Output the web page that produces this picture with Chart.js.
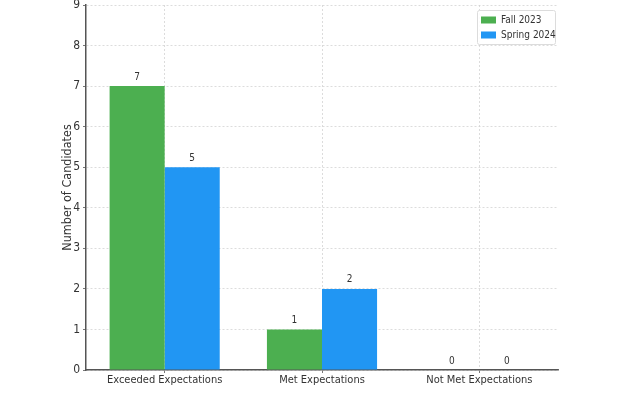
<!DOCTYPE html>
<html lang="en">
<head>
<meta charset="UTF-8">
<title>Candidates by Expectation Level</title>
<script src="https://cdn.jsdelivr.net/npm/chart.js"></script>
<style>
  html, body { margin: 0; padding: 0; background: #fff; }
  #wrap { width: 624px; height: 398px; }
</style>
</head>
<body>
<div id="wrap"><canvas id="chart" width="624" height="398"></canvas></div>
<script>
const categories = ['Exceeded Expectations', 'Met Expectations', 'Not Met Expectations'];
const fall2023 = [7, 1, 0];
const spring2024 = [5, 2, 0];
const seriesNames = ['Fall 2023', 'Spring 2024'];
const seriesColors = ['#4CAF50', '#2196F3'];
const yTicks = [0, 1, 2, 3, 4, 5, 6, 7, 8, 9];
const yTitle = 'Number of Candidates';

const FONT = '"DejaVu Sans Condensed", "DejaVu Sans", sans-serif';

// value labels above each bar
const barLabels = {
  id: 'barLabels',
  afterDatasetsDraw(chart) {
    const ctx = chart.ctx;
    ctx.save();
    ctx.font = '10px ' + FONT;
    ctx.fillStyle = '#333';
    ctx.textAlign = 'center';
    ctx.textBaseline = 'bottom';
    chart.data.datasets.forEach((ds, i) => {
      chart.getDatasetMeta(i).data.forEach((bar, j) => {
        ctx.fillText(String(ds.data[j]), bar.x, bar.y - 4);
      });
    });
    ctx.restore();
  }
};

// y axis title, drawn close to the tick labels
const yTitlePlugin = {
  id: 'yTitle',
  afterDraw(chart) {
    const ctx = chart.ctx;
    const area = chart.chartArea;
    ctx.save();
    ctx.translate(68, (area.top + area.bottom) / 2);
    ctx.rotate(-Math.PI / 2);
    ctx.font = '12.5px ' + FONT;
    ctx.fillStyle = '#333';
    ctx.textAlign = 'center';
    ctx.textBaseline = 'middle';
    ctx.fillText(yTitle, 0, 0);
    ctx.restore();
  }
};

// boxed legend in the top right corner of the plot
const boxLegend = {
  id: 'boxLegend',
  afterDraw(chart) {
    const ctx = chart.ctx;
    const area = chart.chartArea;
    const w = 78, h = 34;
    const x0 = area.right - w - 3, y0 = area.top + 5;
    ctx.save();
    ctx.fillStyle = 'rgba(255,255,255,0.9)';
    ctx.strokeStyle = '#dcdcdc';
    ctx.lineWidth = 1;
    ctx.beginPath();
    ctx.roundRect(x0 + 0.5, y0 + 0.5, w, h, 2);
    ctx.fill();
    ctx.stroke();
    ctx.font = '10px ' + FONT;
    ctx.textBaseline = 'middle';
    ctx.textAlign = 'left';
    chart.data.datasets.forEach((ds, i) => {
      const cy = y0 + 10 + i * 15;
      ctx.fillStyle = ds.backgroundColor;
      ctx.fillRect(x0 + 4, cy - 3.5, 15, 7);
      ctx.fillStyle = '#333';
      ctx.fillText(ds.label, x0 + 24, cy);
    });
    ctx.restore();
  }
};

new Chart(document.getElementById('chart').getContext('2d'), {
  type: 'bar',
  data: {
    labels: categories,
    datasets: [
      { label: seriesNames[0], data: fall2023, backgroundColor: seriesColors[0] },
      { label: seriesNames[1], data: spring2024, backgroundColor: seriesColors[1] }
    ]
  },
  options: {
    responsive: false,
    animation: false,
    devicePixelRatio: 1,
    layout: { padding: { left: 0, right: 66, top: 0, bottom: 0 } },
    datasets: { bar: { categoryPercentage: 0.7, barPercentage: 1.0 } },
    plugins: {
      legend: { display: false },
      title: { display: false },
      tooltip: { enabled: false }
    },
    scales: {
      x: {
        grid: {
          offset: false,
          color: '#d4d4d4',
          lineWidth: 0.8,
          tickLength: 3,
          tickColor: '#555'
        },
        border: { display: true, color: '#555', width: 1.5, dash: [2, 2] },
        ticks: {
          color: '#333',
          font: { family: FONT, size: 11 },
          padding: 1,
          maxRotation: 0,
          autoSkip: false
        },
        afterFit(scale) { scale.height = 28; }
      },
      y: {
        min: 0,
        max: 9,
        afterBuildTicks(scale) { scale.ticks = yTicks.map(v => ({ value: v })); },
        grid: {
          color: '#d4d4d4',
          lineWidth: 0.8,
          tickLength: 3,
          tickColor: '#555'
        },
        border: { display: true, color: '#555', width: 1.5, dash: [2, 2] },
        ticks: {
          color: '#333',
          font: { family: FONT, size: 12, lineHeight: 0.8 },
          padding: 3
        },
        afterFit(scale) { scale.width = 86; scale.paddingTop = 5; }
      }
    }
  },
  plugins: [barLabels, yTitlePlugin, boxLegend]
});
</script>
</body>
</html>
